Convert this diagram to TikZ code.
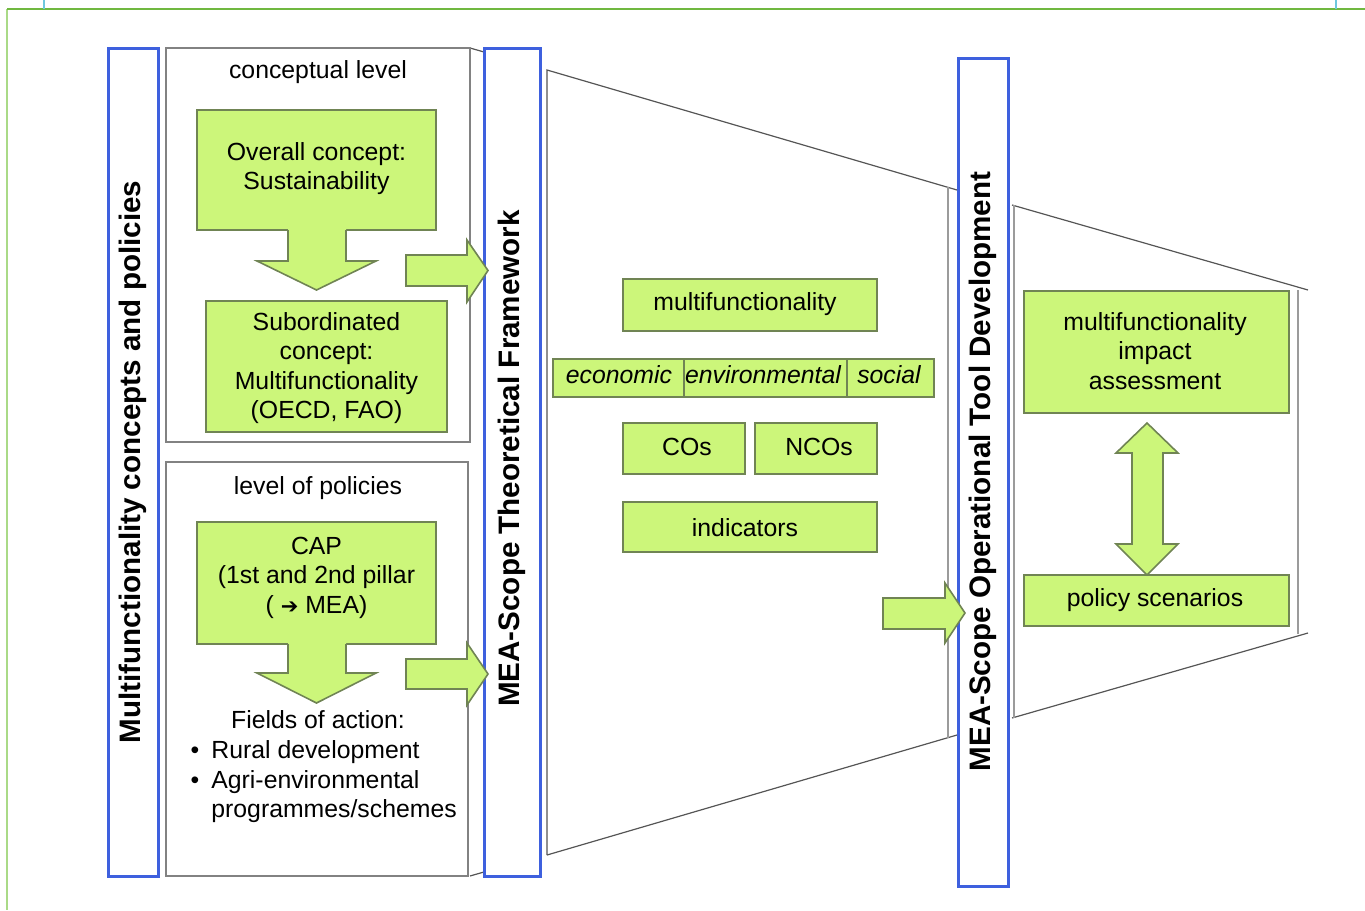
\documentclass[tikz,border=0pt]{standalone}
\usepackage{fontspec}
\setmainfont{Liberation Sans}
\newfontfamily\symfont{DejaVu Sans}
\definecolor{leaf}{RGB}{204,246,122}
\definecolor{leafedge}{RGB}{112,132,84}
\definecolor{barblue}{RGB}{62,96,222}
\definecolor{boxgray}{RGB}{130,130,130}
\definecolor{funnelgray}{RGB}{85,85,85}
\definecolor{framegreen}{RGB}{112,184,64}
\definecolor{framelight}{RGB}{170,218,135}
\definecolor{tickcyan}{RGB}{110,200,222}
\tikzset{
  txt/.style={inner sep=0pt, align=center, font=\fontsize{12.4}{14.75}\selectfont},
  gtext/.style={inner sep=0pt, align=center, text depth=0pt,
    font=\fontsize{12.4}{14.75}\selectfont},
  gbox/.style={draw=leafedge, fill=leaf, line width=0.8pt, inner sep=0pt},
  grayframe/.style={draw=boxgray, line width=1pt, inner sep=0pt},
  bluebar/.style={draw=barblue, fill=white, line width=1.5pt, inner sep=0pt},
  barlabel/.style={rotate=90, inner sep=0pt, font=\fontsize{14.8}{17}\selectfont\bfseries},
  funnel/.style={draw=funnelgray, line width=0.6pt},
  funnelside/.style={draw=boxgray!80, line width=1pt},
  blockfill/.style={fill=leaf},
  blockedge/.style={draw=leafedge, line width=0.8pt, line join=miter},
}
\begin{document}
\begin{tikzpicture}[x=0.5pt, y=-0.5pt]
\useasboundingbox (0,0) rectangle (1365,910);

% page frame and tick marks
\draw[framelight, line width=1pt] (7,9) -- (7,910);
\draw[framegreen, line width=1pt] (7,9) -- (1365,9);
\draw[tickcyan, line width=1pt] (44,0) -- (44,9);
\draw[tickcyan, line width=1pt] (1336,0) -- (1336,9);

% funnels between the stages
\coordinate (f1a) at (547,70);
\coordinate (f1b) at (957,190);
\coordinate (f1c) at (957,735);
\coordinate (f1d) at (547,855);
\draw[funnel] (f1d) -- (f1a) -- (f1b);
\draw[funnel] (f1d) -- (f1c);
\draw[funnelside] (948,187) -- (948,738);
\coordinate (f2a) at (1012,205);
\coordinate (f2b) at (1308,290);
\coordinate (f2c) at (1308,633);
\coordinate (f2d) at (1012,718);
\draw[funnel] (f2a) -- (f2b);
\draw[funnel] (f2d) -- (f2c);
\draw[funnelside] (1014,205) -- (1014,718);
\draw[funnelside] (1298,290) -- (1298,634);
\draw[funnel] (470,48) -- (484,52);
\draw[funnel] (470,876) -- (484,872);

% left column frames
\node[grayframe, minimum width=152pt, minimum height=197pt] (concept) at (318,245) {};
\node[grayframe, minimum width=151pt, minimum height=207pt] (policy) at (317,669) {};

% vertical stage bars
\node[bluebar, minimum width=25pt, minimum height=414pt] (bar1) at (133,462) {};
\node[barlabel] (lab1) at (133,462) {Multifunctionality concepts and policies};
\node[bluebar, minimum width=28pt, minimum height=414pt] (bar2) at (512,462) {};
\node[barlabel] (lab2) at (512,458.5) {MEA-Scope Theoretical Framework};
\node[bluebar, minimum width=25pt, minimum height=414pt] (bar3) at (983,472) {};
\node[barlabel] (lab3) at (983,471.5) {MEA-Scope Operational Tool Development};

% conceptual level
\node[txt, anchor=base] (conlab) at (318,78) {conceptual level};
\node[gbox, minimum width=119.5pt, minimum height=60pt] (overall) at (316.5,170) {};
\node[gtext] (overalltxt) at (316.5,166) {Overall concept:\\Sustainability};
\node[gbox, minimum width=120.5pt, minimum height=65.5pt] (sub) at (326.5,366.5) {};
\node[gtext] (subtxt) at (326.5,365.5) {Subordinated\\concept:\\Multifunctionality\\(OECD, FAO)};

% level of policies
\node[txt, anchor=base] (pollab) at (318,494) {level of policies};
\node[gbox, minimum width=119.5pt, minimum height=61pt] (cap) at (316.5,583) {};
\node[gtext] (captxt) at (316.5,575)
  {CAP\\(1st and 2nd pillar\\( {\symfont\fontsize{10.5}{10}\selectfont ➔} MEA)};
\node[txt, anchor=base] (fields) at (318,728) {Fields of action:};
\node[txt, anchor=base] (bul1) at (195,758) {•};
\node[txt, anchor=base] (bul2) at (195,788) {•};
\node[txt, anchor=base west] (rural) at (211,758) {Rural development};
\node[txt, anchor=base west] (agri) at (211,788) {Agri-environmental};
\node[txt, anchor=base west] (prog) at (211,817.5) {programmes/schemes};

% theoretical framework contents
\node[gbox, minimum width=127pt, minimum height=26pt] (mf) at (750,305) {};
\node[txt, anchor=base] (mftxt) at (745,310) {multifunctionality};
\node[gbox, minimum width=65.5pt, minimum height=19pt] (eco) at (618.5,378) {};
\node[gbox, minimum width=81.5pt, minimum height=19pt] (env) at (765.5,378) {};
\node[gbox, minimum width=43.5pt, minimum height=19pt] (soc) at (890.5,378) {};
\node[txt, anchor=base, font=\fontsize{12.4}{14.75}\selectfont\itshape] (ecotxt) at (619,383) {economic};
\node[txt, anchor=base, font=\fontsize{12.4}{14.75}\selectfont\itshape] (envtxt) at (763,383) {environmental};
\node[txt, anchor=base, font=\fontsize{12.4}{14.75}\selectfont\itshape] (soctxt) at (889,383) {social};
\node[gbox, minimum width=61pt, minimum height=25.5pt] (cos) at (684,448.5) {};
\node[gbox, minimum width=61pt, minimum height=25.5pt] (ncos) at (816,448.5) {};
\node[txt, anchor=base] (costxt) at (687,455) {COs};
\node[txt, anchor=base] (ncostxt) at (819,455) {NCOs};
\node[gbox, minimum width=127pt, minimum height=25pt] (ind) at (750,527) {};
\node[txt, anchor=base] (indtxt) at (745,536) {indicators};

% operational tool contents
\node[gbox, minimum width=132.5pt, minimum height=61pt] (mia) at (1156.5,352) {};
\node[gtext] (miatxt) at (1155,351) {multifunctionality\\impact\\assessment};
\node[gbox, minimum width=132.5pt, minimum height=25.5pt] (scen) at (1156.5,600.5) {};
\node[txt, anchor=base] (scentxt) at (1155,606) {policy scenarios};

% block arrows
\fill[blockfill] (288,229) -- (288,261) -- (257,261) -- (316.5,290) -- (376,261) -- (346,261) -- (346,229) -- cycle;
\draw[blockedge] (288,230) -- (288,261) -- (257,261) -- (316.5,290) -- (376,261) -- (346,261) -- (346,230);
\fill[blockfill] (288,643) -- (288,673) -- (257,673) -- (316.5,703) -- (376,673) -- (346,673) -- (346,643) -- cycle;
\draw[blockedge] (288,644) -- (288,673) -- (257,673) -- (316.5,703) -- (376,673) -- (346,673) -- (346,644);
\filldraw[blockfill, blockedge] (406,255) -- (467,255) -- (467,240) -- (488,270.5) -- (467,302) -- (467,286) -- (406,286) -- cycle;
\filldraw[blockfill, blockedge] (406,659) -- (467,659) -- (467,643) -- (488,674) -- (467,705) -- (467,689) -- (406,689) -- cycle;
\filldraw[blockfill, blockedge] (883,598) -- (945,598) -- (945,583) -- (965,613) -- (945,643) -- (945,629) -- (883,629) -- cycle;
\filldraw[blockfill, blockedge] (1147,423) -- (1178,453) -- (1163,453) -- (1163,544) -- (1178,544) -- (1147,575)
  -- (1116,544) -- (1132,544) -- (1132,453) -- (1116,453) -- cycle;
\end{tikzpicture}
\end{document}
